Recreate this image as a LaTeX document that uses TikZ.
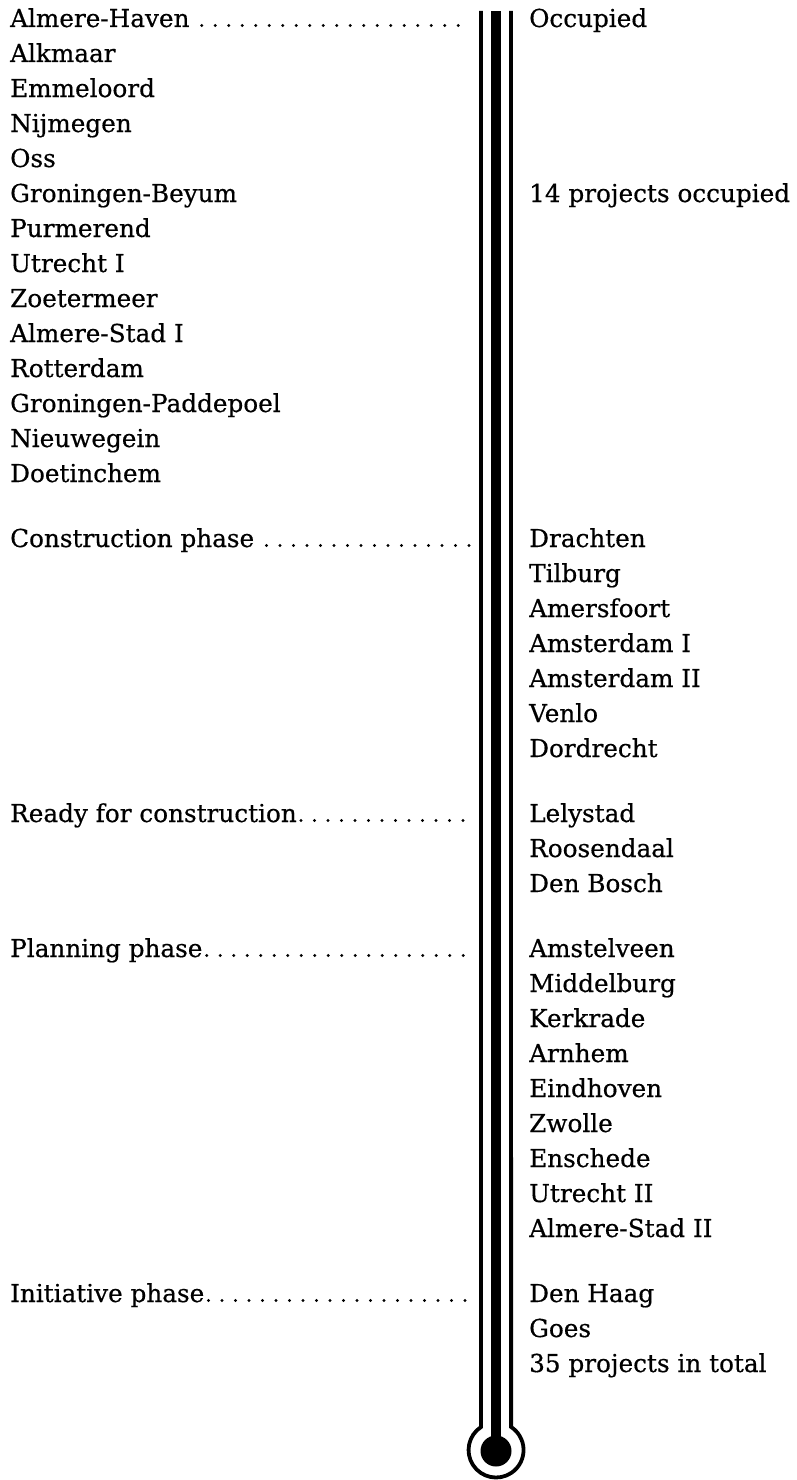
\documentclass[tikz,border=0pt]{standalone}
\usepackage{fontspec}
\setmainfont[FakeBold=0.5]{DejaVu Serif}
\tikzset{
  place/.style={anchor=base west, inner sep=0pt, font=\fontsize{24.7}{30}\selectfont},
  leader/.style={line width=3.2pt, line cap=round, dash pattern=on 0pt off 13.5pt},
  tube/.style={line width=3.8pt}
}
\begin{document}
\begin{tikzpicture}[x=1pt,y=-1pt]
  \useasboundingbox (0,0) rectangle (797,1480);
  % Thermometer: open tube with bulb
  \draw[tube] (481,11) -- (481,1427) arc[start angle=236.8, end angle=-56.8, radius=27.5] -- (511,11);
  \fill (491,11) rectangle (501,1445);
  \fill (496,1451) circle[radius=15.5];
  % Occupied
  \node[place] (almerehaven) at (10,27) {Almere-Haven};
  \node[place] (alkmaar) at (10,62) {Alkmaar};
  \node[place] (emmeloord) at (10,97) {Emmeloord};
  \node[place] (nijmegen) at (10,132) {Nijmegen};
  \node[place] (oss) at (10,167) {Oss};
  \node[place] (beyum) at (10,202) {Groningen-Beyum};
  \node[place] (purmerend) at (10,237) {Purmerend};
  \node[place] (utrechtI) at (10,272) {Utrecht I};
  \node[place] (zoetermeer) at (10,307) {Zoetermeer};
  \node[place] (almerestadI) at (10,342) {Almere-Stad I};
  \node[place] (rotterdam) at (10,377) {Rotterdam};
  \node[place] (paddepoel) at (10,412) {Groningen-Paddepoel};
  \node[place] (nieuwegein) at (10,447) {Nieuwegein};
  \node[place] (doetinchem) at (10,482) {Doetinchem};
  \node[place] (occupied) at (529,27) {Occupied};
  \node[place] (occupiedcount) at (529,202) {14 projects occupied};
  \coordinate (occupiedtick) at (471,25.5);
  \draw[leader] ([shift={(12,-1.5)}]almerehaven.base east) -- (occupiedtick);
  % Construction phase
  \node[place] (construction) at (10,547) {Construction phase};
  \node[place] (drachten) at (529,547) {Drachten};
  \node[place] (tilburg) at (529,582) {Tilburg};
  \node[place] (amersfoort) at (529,617) {Amersfoort};
  \node[place] (amsterdamI) at (529,652) {Amsterdam I};
  \node[place] (amsterdamII) at (529,687) {Amsterdam II};
  \node[place] (venlo) at (529,722) {Venlo};
  \node[place] (dordrecht) at (529,757) {Dordrecht};
  \coordinate (constructiontick) at (471,545.5);
  \draw[leader] ([shift={(12,-1.5)}]construction.base east) -- (constructiontick);
  % Ready for construction
  \node[place] (ready) at (10,822) {Ready for construction};
  \node[place] (lelystad) at (529,822) {Lelystad};
  \node[place] (roosendaal) at (529,857) {Roosendaal};
  \node[place] (denbosch) at (529,892) {Den Bosch};
  \coordinate (readytick) at (471,820.5);
  \draw[leader] ([shift={(4,-1.5)}]ready.base east) -- (readytick);
  % Planning phase
  \node[place] (planning) at (10,957) {Planning phase};
  \node[place] (amstelveen) at (529,957) {Amstelveen};
  \node[place] (middelburg) at (529,992) {Middelburg};
  \node[place] (kerkrade) at (529,1027) {Kerkrade};
  \node[place] (arnhem) at (529,1062) {Arnhem};
  \node[place] (eindhoven) at (529,1097) {Eindhoven};
  \node[place] (zwolle) at (529,1132) {Zwolle};
  \node[place] (enschede) at (529,1167) {Enschede};
  \node[place] (utrechtII) at (529,1202) {Utrecht II};
  \node[place] (almerestadII) at (529,1237) {Almere-Stad II};
  \coordinate (planningtick) at (471,955.5);
  \draw[leader] ([shift={(4,-1.5)}]planning.base east) -- (planningtick);
  % Initiative phase
  \node[place] (initiative) at (10,1302) {Initiative phase};
  \node[place] (denhaag) at (529,1302) {Den Haag};
  \node[place] (goes) at (529,1337) {Goes};
  \node[place] (total) at (529,1372) {35 projects in total};
  \coordinate (initiativetick) at (471,1300.5);
  \draw[leader] ([shift={(4,-1.5)}]initiative.base east) -- (initiativetick);
\end{tikzpicture}
\end{document}
